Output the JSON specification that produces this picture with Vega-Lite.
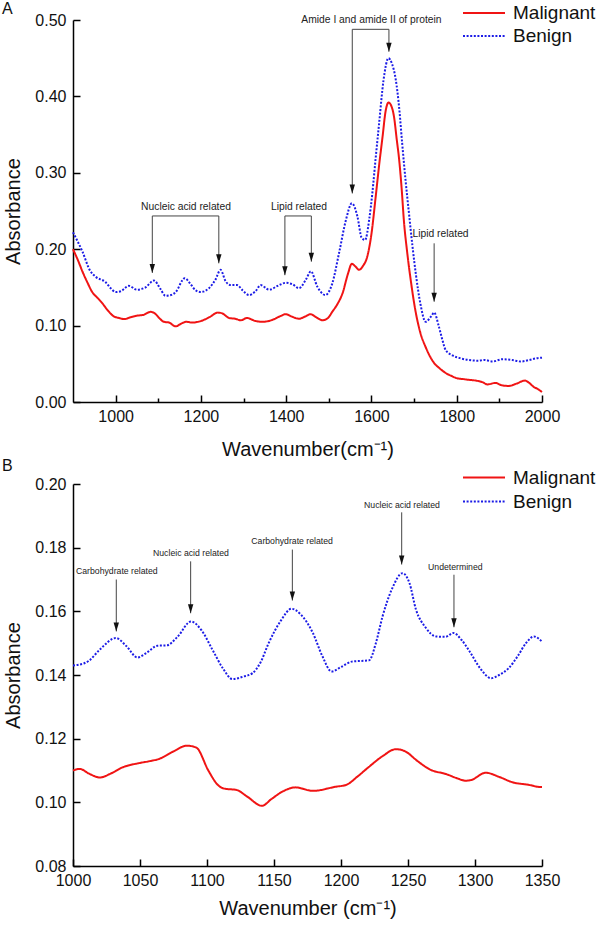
{
  "$schema": "https://vega.github.io/schema/vega-lite/v6.json",
  "background": "white",
  "padding": {"left": 2, "top": 0, "right": 2, "bottom": 2},
  "bounds": "flush",
  "spacing": 82,
  "config": {
    "font": "Liberation Sans",
    "view": {"stroke": null},
    "axis": {
      "grid": false,
      "domainColor": "#000",
      "domainWidth": 1.5,
      "tickColor": "#000",
      "tickWidth": 1.5,
      "labelFont": "Liberation Sans",
      "labelFontSize": 16,
      "labelColor": "#111",
      "labelFlush": false,
      "labelOverlap": false,
      "titleFont": "Liberation Sans",
      "titleFontSize": 20,
      "titleFontWeight": "normal",
      "titleColor": "#111"
    },
    "legend": {
      "orient": "none",
      "title": null,
      "symbolType": "stroke",
      "symbolSize": 1764,
      "symbolStrokeWidth": 2,
      "clipHeight": 19,
      "labelFont": "Liberation Sans",
      "labelFontSize": 19,
      "labelColor": "#111",
      "labelOffset": 7,
      "rowPadding": 3,
      "padding": 0
    },
    "title": {"font": "Liberation Sans", "fontSize": 16, "fontWeight": "normal", "anchor": "start", "frame": "group", "color": "#111"}
  },
  "datasets": {
    "specA": [
      {"x": 900, "y": 0.222, "sample": "Benign"},
      {"x": 922, "y": 0.197, "sample": "Benign"},
      {"x": 940, "y": 0.172, "sample": "Benign"},
      {"x": 953, "y": 0.164, "sample": "Benign"},
      {"x": 976, "y": 0.157, "sample": "Benign"},
      {"x": 990, "y": 0.148, "sample": "Benign"},
      {"x": 1000, "y": 0.144, "sample": "Benign"},
      {"x": 1012, "y": 0.145, "sample": "Benign"},
      {"x": 1031, "y": 0.152, "sample": "Benign"},
      {"x": 1050, "y": 0.147, "sample": "Benign"},
      {"x": 1070, "y": 0.150, "sample": "Benign"},
      {"x": 1090, "y": 0.159, "sample": "Benign"},
      {"x": 1105, "y": 0.148, "sample": "Benign"},
      {"x": 1117, "y": 0.139, "sample": "Benign"},
      {"x": 1130, "y": 0.140, "sample": "Benign"},
      {"x": 1141, "y": 0.144, "sample": "Benign"},
      {"x": 1162, "y": 0.162, "sample": "Benign"},
      {"x": 1175, "y": 0.155, "sample": "Benign"},
      {"x": 1188, "y": 0.146, "sample": "Benign"},
      {"x": 1200, "y": 0.144, "sample": "Benign"},
      {"x": 1219, "y": 0.149, "sample": "Benign"},
      {"x": 1234, "y": 0.160, "sample": "Benign"},
      {"x": 1246, "y": 0.173, "sample": "Benign"},
      {"x": 1258, "y": 0.158, "sample": "Benign"},
      {"x": 1270, "y": 0.153, "sample": "Benign"},
      {"x": 1285, "y": 0.153, "sample": "Benign"},
      {"x": 1298, "y": 0.146, "sample": "Benign"},
      {"x": 1313, "y": 0.140, "sample": "Benign"},
      {"x": 1328, "y": 0.145, "sample": "Benign"},
      {"x": 1340, "y": 0.153, "sample": "Benign"},
      {"x": 1360, "y": 0.147, "sample": "Benign"},
      {"x": 1380, "y": 0.152, "sample": "Benign"},
      {"x": 1399, "y": 0.156, "sample": "Benign"},
      {"x": 1415, "y": 0.154, "sample": "Benign"},
      {"x": 1430, "y": 0.149, "sample": "Benign"},
      {"x": 1446, "y": 0.160, "sample": "Benign"},
      {"x": 1458, "y": 0.171, "sample": "Benign"},
      {"x": 1473, "y": 0.151, "sample": "Benign"},
      {"x": 1492, "y": 0.140, "sample": "Benign"},
      {"x": 1508, "y": 0.155, "sample": "Benign"},
      {"x": 1524, "y": 0.195, "sample": "Benign"},
      {"x": 1540, "y": 0.238, "sample": "Benign"},
      {"x": 1554, "y": 0.260, "sample": "Benign"},
      {"x": 1567, "y": 0.243, "sample": "Benign"},
      {"x": 1577, "y": 0.215, "sample": "Benign"},
      {"x": 1585, "y": 0.212, "sample": "Benign"},
      {"x": 1595, "y": 0.240, "sample": "Benign"},
      {"x": 1602, "y": 0.273, "sample": "Benign"},
      {"x": 1610, "y": 0.320, "sample": "Benign"},
      {"x": 1618, "y": 0.365, "sample": "Benign"},
      {"x": 1628, "y": 0.420, "sample": "Benign"},
      {"x": 1640, "y": 0.450, "sample": "Benign"},
      {"x": 1648, "y": 0.443, "sample": "Benign"},
      {"x": 1657, "y": 0.422, "sample": "Benign"},
      {"x": 1665, "y": 0.385, "sample": "Benign"},
      {"x": 1672, "y": 0.339, "sample": "Benign"},
      {"x": 1680, "y": 0.290, "sample": "Benign"},
      {"x": 1688, "y": 0.247, "sample": "Benign"},
      {"x": 1696, "y": 0.205, "sample": "Benign"},
      {"x": 1704, "y": 0.168, "sample": "Benign"},
      {"x": 1715, "y": 0.128, "sample": "Benign"},
      {"x": 1727, "y": 0.105, "sample": "Benign"},
      {"x": 1740, "y": 0.112, "sample": "Benign"},
      {"x": 1747, "y": 0.117, "sample": "Benign"},
      {"x": 1758, "y": 0.099, "sample": "Benign"},
      {"x": 1766, "y": 0.082, "sample": "Benign"},
      {"x": 1774, "y": 0.068, "sample": "Benign"},
      {"x": 1790, "y": 0.061, "sample": "Benign"},
      {"x": 1810, "y": 0.057, "sample": "Benign"},
      {"x": 1829, "y": 0.055, "sample": "Benign"},
      {"x": 1850, "y": 0.054, "sample": "Benign"},
      {"x": 1865, "y": 0.055, "sample": "Benign"},
      {"x": 1884, "y": 0.053, "sample": "Benign"},
      {"x": 1907, "y": 0.056, "sample": "Benign"},
      {"x": 1930, "y": 0.055, "sample": "Benign"},
      {"x": 1950, "y": 0.053, "sample": "Benign"},
      {"x": 1970, "y": 0.055, "sample": "Benign"},
      {"x": 1985, "y": 0.057, "sample": "Benign"},
      {"x": 2000, "y": 0.058, "sample": "Benign"},
      {"x": 900, "y": 0.200, "sample": "Malignant"},
      {"x": 912, "y": 0.185, "sample": "Malignant"},
      {"x": 922, "y": 0.171, "sample": "Malignant"},
      {"x": 935, "y": 0.155, "sample": "Malignant"},
      {"x": 945, "y": 0.144, "sample": "Malignant"},
      {"x": 958, "y": 0.136, "sample": "Malignant"},
      {"x": 969, "y": 0.129, "sample": "Malignant"},
      {"x": 983, "y": 0.119, "sample": "Malignant"},
      {"x": 996, "y": 0.112, "sample": "Malignant"},
      {"x": 1008, "y": 0.110, "sample": "Malignant"},
      {"x": 1020, "y": 0.1085, "sample": "Malignant"},
      {"x": 1035, "y": 0.111, "sample": "Malignant"},
      {"x": 1050, "y": 0.113, "sample": "Malignant"},
      {"x": 1065, "y": 0.114, "sample": "Malignant"},
      {"x": 1082, "y": 0.118, "sample": "Malignant"},
      {"x": 1092, "y": 0.116, "sample": "Malignant"},
      {"x": 1102, "y": 0.110, "sample": "Malignant"},
      {"x": 1113, "y": 0.105, "sample": "Malignant"},
      {"x": 1125, "y": 0.104, "sample": "Malignant"},
      {"x": 1141, "y": 0.099, "sample": "Malignant"},
      {"x": 1155, "y": 0.103, "sample": "Malignant"},
      {"x": 1166, "y": 0.105, "sample": "Malignant"},
      {"x": 1180, "y": 0.104, "sample": "Malignant"},
      {"x": 1200, "y": 0.106, "sample": "Malignant"},
      {"x": 1220, "y": 0.111, "sample": "Malignant"},
      {"x": 1240, "y": 0.117, "sample": "Malignant"},
      {"x": 1250, "y": 0.116, "sample": "Malignant"},
      {"x": 1266, "y": 0.110, "sample": "Malignant"},
      {"x": 1280, "y": 0.109, "sample": "Malignant"},
      {"x": 1294, "y": 0.107, "sample": "Malignant"},
      {"x": 1308, "y": 0.110, "sample": "Malignant"},
      {"x": 1328, "y": 0.106, "sample": "Malignant"},
      {"x": 1345, "y": 0.105, "sample": "Malignant"},
      {"x": 1365, "y": 0.107, "sample": "Malignant"},
      {"x": 1385, "y": 0.112, "sample": "Malignant"},
      {"x": 1399, "y": 0.115, "sample": "Malignant"},
      {"x": 1412, "y": 0.112, "sample": "Malignant"},
      {"x": 1430, "y": 0.109, "sample": "Malignant"},
      {"x": 1445, "y": 0.112, "sample": "Malignant"},
      {"x": 1457, "y": 0.115, "sample": "Malignant"},
      {"x": 1470, "y": 0.111, "sample": "Malignant"},
      {"x": 1485, "y": 0.107, "sample": "Malignant"},
      {"x": 1498, "y": 0.110, "sample": "Malignant"},
      {"x": 1508, "y": 0.118, "sample": "Malignant"},
      {"x": 1520, "y": 0.128, "sample": "Malignant"},
      {"x": 1532, "y": 0.142, "sample": "Malignant"},
      {"x": 1545, "y": 0.168, "sample": "Malignant"},
      {"x": 1554, "y": 0.181, "sample": "Malignant"},
      {"x": 1563, "y": 0.177, "sample": "Malignant"},
      {"x": 1571, "y": 0.173, "sample": "Malignant"},
      {"x": 1580, "y": 0.178, "sample": "Malignant"},
      {"x": 1590, "y": 0.190, "sample": "Malignant"},
      {"x": 1600, "y": 0.220, "sample": "Malignant"},
      {"x": 1610, "y": 0.269, "sample": "Malignant"},
      {"x": 1618, "y": 0.310, "sample": "Malignant"},
      {"x": 1626, "y": 0.347, "sample": "Malignant"},
      {"x": 1633, "y": 0.380, "sample": "Malignant"},
      {"x": 1640, "y": 0.392, "sample": "Malignant"},
      {"x": 1647, "y": 0.387, "sample": "Malignant"},
      {"x": 1653, "y": 0.373, "sample": "Malignant"},
      {"x": 1659, "y": 0.345, "sample": "Malignant"},
      {"x": 1665, "y": 0.317, "sample": "Malignant"},
      {"x": 1671, "y": 0.278, "sample": "Malignant"},
      {"x": 1676, "y": 0.238, "sample": "Malignant"},
      {"x": 1684, "y": 0.195, "sample": "Malignant"},
      {"x": 1692, "y": 0.160, "sample": "Malignant"},
      {"x": 1703, "y": 0.120, "sample": "Malignant"},
      {"x": 1715, "y": 0.090, "sample": "Malignant"},
      {"x": 1727, "y": 0.072, "sample": "Malignant"},
      {"x": 1737, "y": 0.060, "sample": "Malignant"},
      {"x": 1747, "y": 0.051, "sample": "Malignant"},
      {"x": 1760, "y": 0.044, "sample": "Malignant"},
      {"x": 1774, "y": 0.038, "sample": "Malignant"},
      {"x": 1788, "y": 0.034, "sample": "Malignant"},
      {"x": 1801, "y": 0.031, "sample": "Malignant"},
      {"x": 1815, "y": 0.030, "sample": "Malignant"},
      {"x": 1829, "y": 0.029, "sample": "Malignant"},
      {"x": 1845, "y": 0.028, "sample": "Malignant"},
      {"x": 1860, "y": 0.026, "sample": "Malignant"},
      {"x": 1872, "y": 0.023, "sample": "Malignant"},
      {"x": 1891, "y": 0.025, "sample": "Malignant"},
      {"x": 1905, "y": 0.022, "sample": "Malignant"},
      {"x": 1922, "y": 0.021, "sample": "Malignant"},
      {"x": 1940, "y": 0.024, "sample": "Malignant"},
      {"x": 1960, "y": 0.028, "sample": "Malignant"},
      {"x": 1970, "y": 0.025, "sample": "Malignant"},
      {"x": 1980, "y": 0.020, "sample": "Malignant"},
      {"x": 1990, "y": 0.017, "sample": "Malignant"},
      {"x": 2000, "y": 0.013, "sample": "Malignant"}
    ],
    "specB": [
      {"x": 1000, "y": 0.1430, "sample": "Benign"},
      {"x": 1004, "y": 0.1432, "sample": "Benign"},
      {"x": 1012, "y": 0.1445, "sample": "Benign"},
      {"x": 1020, "y": 0.1480, "sample": "Benign"},
      {"x": 1032, "y": 0.1516, "sample": "Benign"},
      {"x": 1040, "y": 0.1490, "sample": "Benign"},
      {"x": 1048, "y": 0.1455, "sample": "Benign"},
      {"x": 1055, "y": 0.1470, "sample": "Benign"},
      {"x": 1063, "y": 0.1492, "sample": "Benign"},
      {"x": 1070, "y": 0.1493, "sample": "Benign"},
      {"x": 1078, "y": 0.1520, "sample": "Benign"},
      {"x": 1088, "y": 0.1568, "sample": "Benign"},
      {"x": 1096, "y": 0.1540, "sample": "Benign"},
      {"x": 1104, "y": 0.1480, "sample": "Benign"},
      {"x": 1112, "y": 0.1420, "sample": "Benign"},
      {"x": 1119, "y": 0.1387, "sample": "Benign"},
      {"x": 1127, "y": 0.1395, "sample": "Benign"},
      {"x": 1134, "y": 0.1406, "sample": "Benign"},
      {"x": 1140, "y": 0.1440, "sample": "Benign"},
      {"x": 1146, "y": 0.1500, "sample": "Benign"},
      {"x": 1155, "y": 0.1570, "sample": "Benign"},
      {"x": 1163, "y": 0.1608, "sample": "Benign"},
      {"x": 1170, "y": 0.1590, "sample": "Benign"},
      {"x": 1179, "y": 0.1532, "sample": "Benign"},
      {"x": 1186, "y": 0.1460, "sample": "Benign"},
      {"x": 1193, "y": 0.1411, "sample": "Benign"},
      {"x": 1200, "y": 0.1425, "sample": "Benign"},
      {"x": 1208, "y": 0.1442, "sample": "Benign"},
      {"x": 1221, "y": 0.1446, "sample": "Benign"},
      {"x": 1226, "y": 0.1500, "sample": "Benign"},
      {"x": 1231, "y": 0.1584, "sample": "Benign"},
      {"x": 1238, "y": 0.1670, "sample": "Benign"},
      {"x": 1246, "y": 0.1720, "sample": "Benign"},
      {"x": 1251, "y": 0.1690, "sample": "Benign"},
      {"x": 1256, "y": 0.1605, "sample": "Benign"},
      {"x": 1263, "y": 0.1550, "sample": "Benign"},
      {"x": 1271, "y": 0.1521, "sample": "Benign"},
      {"x": 1278, "y": 0.1520, "sample": "Benign"},
      {"x": 1284, "y": 0.1532, "sample": "Benign"},
      {"x": 1290, "y": 0.1510, "sample": "Benign"},
      {"x": 1296, "y": 0.1474, "sample": "Benign"},
      {"x": 1304, "y": 0.1420, "sample": "Benign"},
      {"x": 1312, "y": 0.1390, "sample": "Benign"},
      {"x": 1318, "y": 0.1400, "sample": "Benign"},
      {"x": 1325, "y": 0.1421, "sample": "Benign"},
      {"x": 1332, "y": 0.1460, "sample": "Benign"},
      {"x": 1338, "y": 0.1500, "sample": "Benign"},
      {"x": 1344, "y": 0.1521, "sample": "Benign"},
      {"x": 1350, "y": 0.1505, "sample": "Benign"},
      {"x": 1000, "y": 0.1100, "sample": "Malignant"},
      {"x": 1005, "y": 0.1105, "sample": "Malignant"},
      {"x": 1012, "y": 0.1090, "sample": "Malignant"},
      {"x": 1020, "y": 0.1078, "sample": "Malignant"},
      {"x": 1028, "y": 0.1090, "sample": "Malignant"},
      {"x": 1037, "y": 0.1110, "sample": "Malignant"},
      {"x": 1049, "y": 0.1123, "sample": "Malignant"},
      {"x": 1058, "y": 0.1130, "sample": "Malignant"},
      {"x": 1064, "y": 0.1136, "sample": "Malignant"},
      {"x": 1075, "y": 0.1160, "sample": "Malignant"},
      {"x": 1085, "y": 0.1178, "sample": "Malignant"},
      {"x": 1092, "y": 0.1172, "sample": "Malignant"},
      {"x": 1101, "y": 0.1100, "sample": "Malignant"},
      {"x": 1108, "y": 0.1055, "sample": "Malignant"},
      {"x": 1113, "y": 0.1043, "sample": "Malignant"},
      {"x": 1122, "y": 0.1039, "sample": "Malignant"},
      {"x": 1130, "y": 0.1018, "sample": "Malignant"},
      {"x": 1141, "y": 0.0989, "sample": "Malignant"},
      {"x": 1148, "y": 0.1010, "sample": "Malignant"},
      {"x": 1156, "y": 0.1033, "sample": "Malignant"},
      {"x": 1166, "y": 0.1047, "sample": "Malignant"},
      {"x": 1179, "y": 0.1036, "sample": "Malignant"},
      {"x": 1196, "y": 0.1049, "sample": "Malignant"},
      {"x": 1204, "y": 0.1055, "sample": "Malignant"},
      {"x": 1212, "y": 0.1080, "sample": "Malignant"},
      {"x": 1221, "y": 0.1112, "sample": "Malignant"},
      {"x": 1231, "y": 0.1145, "sample": "Malignant"},
      {"x": 1241, "y": 0.1167, "sample": "Malignant"},
      {"x": 1248, "y": 0.1160, "sample": "Malignant"},
      {"x": 1257, "y": 0.1130, "sample": "Malignant"},
      {"x": 1266, "y": 0.1104, "sample": "Malignant"},
      {"x": 1279, "y": 0.1088, "sample": "Malignant"},
      {"x": 1287, "y": 0.1075, "sample": "Malignant"},
      {"x": 1293, "y": 0.1068, "sample": "Malignant"},
      {"x": 1297, "y": 0.1070, "sample": "Malignant"},
      {"x": 1308, "y": 0.1093, "sample": "Malignant"},
      {"x": 1318, "y": 0.1080, "sample": "Malignant"},
      {"x": 1328, "y": 0.1063, "sample": "Malignant"},
      {"x": 1340, "y": 0.1055, "sample": "Malignant"},
      {"x": 1349, "y": 0.1048, "sample": "Malignant"},
      {"x": 1350, "y": 0.1048, "sample": "Malignant"}
    ],
    "labelsA": [
      {"label": "Nucleic acid related", "x": 1165, "y": 0.255},
      {"label": "Lipid related", "x": 1430, "y": 0.255},
      {"label": "Amide I and amide II of protein", "x": 1600, "y": 0.5},
      {"label": "Lipid related", "x": 1762, "y": 0.22}
    ],
    "bracketsA": [
      {"x": 1086, "x2": 1242, "y": 0.2435},
      {"x": 1397, "x2": 1459, "y": 0.2435},
      {"x": 1555, "x2": 1641, "y": 0.4878}
    ],
    "arrowsA": [
      {"x": 1086, "top": 0.2435, "tip": 0.169},
      {"x": 1242, "top": 0.2435, "tip": 0.1815},
      {"x": 1397, "top": 0.2435, "tip": 0.166},
      {"x": 1459, "top": 0.2435, "tip": 0.1837},
      {"x": 1555, "top": 0.4878, "tip": 0.273},
      {"x": 1641, "top": 0.4878, "tip": 0.4585},
      {"x": 1747, "top": 0.2077, "tip": 0.1313}
    ],
    "labelsB": [
      {"label": "Carbohydrate related", "x": 1032.7, "y": 0.1726},
      {"label": "Nucleic acid related", "x": 1088, "y": 0.1783},
      {"label": "Carbohydrate related", "x": 1163.5, "y": 0.182},
      {"label": "Nucleic acid related", "x": 1245.5, "y": 0.1935},
      {"label": "Undetermined", "x": 1285.3, "y": 0.1739}
    ],
    "arrowsB": [
      {"x": 1032.3, "top": 0.170, "tip": 0.1537},
      {"x": 1087.8, "top": 0.1757, "tip": 0.1594},
      {"x": 1163.7, "top": 0.1794, "tip": 0.1634},
      {"x": 1245.3, "top": 0.1911, "tip": 0.1747},
      {"x": 1284.3, "top": 0.1715, "tip": 0.155}
    ]
  },
  "vconcat": [
    {
      "width": 469,
      "height": 382,
      "title": {"text": "A", "dx": -71, "offset": -13},
      "resolve": {"scale": {"color": "independent", "strokeDash": "independent"}},
      "layer": [
        {
          "data": {"name": "specA"},
          "mark": {"type": "line", "interpolate": "monotone", "strokeWidth": 2},
          "encoding": {
            "x": {"field": "x", "type": "quantitative",
              "scale": {"domain": [900, 2000], "nice": false, "zero": false},
              "axis": {
                "title": "Wavenumber(cm⁻¹)",
                "values": [1000, 1100, 1200, 1300, 1400, 1500, 1600, 1700, 1800, 1900, 2000],
                "format": "d",
                "labelExpr": "datum.value % 200 === 0 ? datum.label : ''",
                "tickSize": {"condition": {"test": "datum.value % 200 === 0", "value": -7}, "value": -4},
                "labelPadding": 13,
                "titlePadding": 12
              }},
            "y": {"field": "y", "type": "quantitative",
              "scale": {"domain": [0, 0.5], "nice": false, "zero": false},
              "axis": {
                "title": "Absorbance",
                "values": [0, 0.05, 0.1, 0.15, 0.2, 0.25, 0.3, 0.35, 0.4, 0.45, 0.5],
                "format": ".2f",
                "labelExpr": "round(datum.value * 100) % 10 === 0 ? datum.label : ''",
                "tickSize": {"condition": {"test": "round(datum.value * 100) % 10 === 0", "value": -7}, "value": -4},
                "labelPadding": 14,
                "titlePadding": 11
              }},
            "color": {"field": "sample", "type": "nominal",
              "scale": {"domain": ["Malignant", "Benign"], "range": ["#f01414", "#1c1ce6"]},
              "legend": {"legendX": 389, "legendY": -16.5}},
            "strokeDash": {"field": "sample", "type": "nominal",
              "scale": {"domain": ["Malignant", "Benign"], "range": [[1, 0], [2, 1.6]]},
              "legend": {"legendX": 389, "legendY": -16.5}}
          }
        },
        {
          "data": {"name": "bracketsA"},
          "mark": {"type": "rule", "color": "#444", "strokeWidth": 1},
          "encoding": {
            "x": {"field": "x", "type": "quantitative"},
            "x2": {"field": "x2"},
            "y": {"field": "y", "type": "quantitative"}
          }
        },
        {
          "data": {"name": "arrowsA"},
          "mark": {"type": "rule", "color": "#444", "strokeWidth": 1},
          "encoding": {
            "x": {"field": "x", "type": "quantitative"},
            "y": {"field": "top", "type": "quantitative"},
            "y2": {"field": "tip"}
          }
        },
        {
          "data": {"name": "arrowsA"},
          "mark": {"type": "point", "shape": "M-0.6,-2L0.6,-2L0,0Z", "filled": true, "color": "#111", "opacity": 1, "size": 81},
          "encoding": {
            "x": {"field": "x", "type": "quantitative"},
            "y": {"field": "tip", "type": "quantitative"}
          }
        },
        {
          "data": {"name": "labelsA"},
          "mark": {"type": "text", "fontSize": 10.3, "color": "#222", "align": "center", "baseline": "middle"},
          "encoding": {
            "x": {"field": "x", "type": "quantitative"},
            "y": {"field": "y", "type": "quantitative"},
            "text": {"field": "label"}
          }
        }
      ]
    },
    {
      "width": 469,
      "height": 382,
      "title": {"text": "B", "dx": -71, "offset": -5.5},
      "resolve": {"scale": {"color": "independent", "strokeDash": "independent"}},
      "layer": [
        {
          "data": {"name": "specB"},
          "mark": {"type": "line", "interpolate": "monotone", "strokeWidth": 2},
          "encoding": {
            "x": {"field": "x", "type": "quantitative",
              "scale": {"domain": [1000, 1350], "nice": false, "zero": false},
              "axis": {
                "title": "Wavenumber (cm⁻¹)",
                "values": [1000, 1025, 1050, 1075, 1100, 1125, 1150, 1175, 1200, 1225, 1250, 1275, 1300, 1325, 1350],
                "format": "d",
                "labelExpr": "datum.value % 50 === 0 ? datum.label : ''",
                "tickSize": {"condition": {"test": "datum.value % 50 === 0", "value": -7}, "value": -4},
                "labelPadding": 13,
                "titlePadding": 10
              }},
            "y": {"field": "y", "type": "quantitative",
              "scale": {"domain": [0.08, 0.2], "nice": false, "zero": false},
              "axis": {
                "title": "Absorbance",
                "values": [0.08, 0.09, 0.1, 0.11, 0.12, 0.13, 0.14, 0.15, 0.16, 0.17, 0.18, 0.19, 0.2],
                "format": ".2f",
                "labelExpr": "round(datum.value * 100) % 2 === 0 ? datum.label : ''",
                "tickSize": {"condition": {"test": "round(datum.value * 100) % 2 === 0", "value": -7}, "value": -4},
                "labelPadding": 14,
                "titlePadding": 11
              }},
            "color": {"field": "sample", "type": "nominal",
              "scale": {"domain": ["Malignant", "Benign"], "range": ["#f01414", "#1c1ce6"]},
              "legend": {"legendX": 389, "legendY": -16, "rowPadding": 4}},
            "strokeDash": {"field": "sample", "type": "nominal",
              "scale": {"domain": ["Malignant", "Benign"], "range": [[1, 0], [2, 1.6]]},
              "legend": {"legendX": 389, "legendY": -16, "rowPadding": 4}}
          }
        },
        {
          "data": {"name": "arrowsB"},
          "mark": {"type": "rule", "color": "#444", "strokeWidth": 1},
          "encoding": {
            "x": {"field": "x", "type": "quantitative"},
            "y": {"field": "top", "type": "quantitative"},
            "y2": {"field": "tip"}
          }
        },
        {
          "data": {"name": "arrowsB"},
          "mark": {"type": "point", "shape": "M-0.6,-2L0.6,-2L0,0Z", "filled": true, "color": "#111", "opacity": 1, "size": 81},
          "encoding": {
            "x": {"field": "x", "type": "quantitative"},
            "y": {"field": "tip", "type": "quantitative"}
          }
        },
        {
          "data": {"name": "labelsB"},
          "mark": {"type": "text", "fontSize": 8.7, "color": "#222", "align": "center", "baseline": "middle"},
          "encoding": {
            "x": {"field": "x", "type": "quantitative"},
            "y": {"field": "y", "type": "quantitative"},
            "text": {"field": "label"}
          }
        }
      ]
    }
  ]
}
